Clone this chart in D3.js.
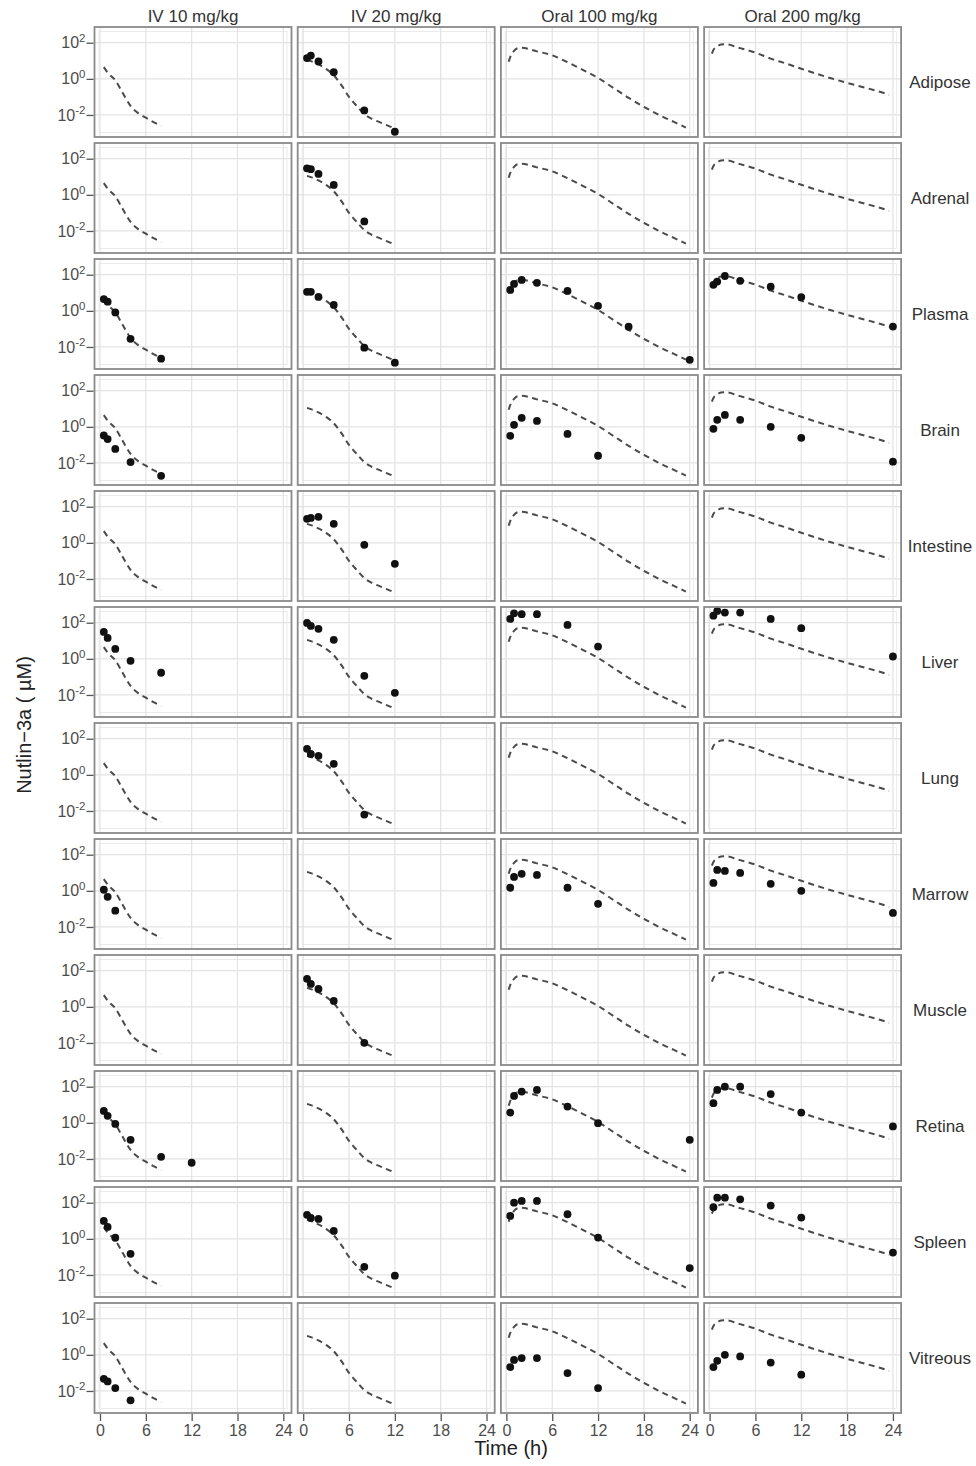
<!DOCTYPE html>
<html><head><meta charset="utf-8">
<script src="https://cdn.jsdelivr.net/npm/d3@7"></script>
<style>body{margin:0;background:#fff;} svg{display:block;font-family:"Liberation Sans",Arial,sans-serif;}</style>
</head><body>
<svg id="chart" width="976" height="1466"></svg>
<script>
// ---------- DATA (concentrations stored as log10 of µM) ----------
const tissues = ["Adipose","Adrenal","Plasma","Brain","Intestine","Liver","Lung","Marrow","Muscle","Retina","Spleen","Vitreous"];
const regimens = ["IV 10 mg/kg","IV 20 mg/kg","Oral 100 mg/kg","Oral 200 mg/kg"];
const xTicks = [0, 6, 12, 18, 24];
const yTicks = [1e-2, 1, 1e2];

// model predictions (dashed), one per dosing regimen
const curveTimeIV10 = [0.5, 1, 2, 3, 4, 5, 6, 7, 8];
const curveIV10     = [0.65, 0.35, -0.08, -0.8, -1.5, -1.9, -2.15, -2.4, -2.6];
const curveTimeIV20 = [0.5, 1, 2, 3, 4, 5, 6, 7, 8, 9, 10, 11, 12];
const curveIV20     = [1.05, 0.98, 0.8, 0.55, 0.2, -0.35, -1.0, -1.5, -1.95, -2.22, -2.4, -2.58, -2.75];
const curveTimeOral = [0.3, 0.5, 1, 1.5, 2, 4, 6, 8, 10, 12, 14, 16, 18, 20, 22, 23.5];
const curveOral100  = [0.95, 1.2, 1.55, 1.7, 1.72, 1.52, 1.3, 0.92, 0.5, 0.05, -0.5, -1.05, -1.55, -2.0, -2.4, -2.7];
const curveOral200  = [1.4, 1.6, 1.8, 1.9, 1.92, 1.7, 1.45, 1.12, 0.85, 0.56, 0.28, 0.02, -0.22, -0.45, -0.68, -0.88];

// observed data per tissue: [IV10, IV20, Oral100, Oral200], each a list of [time h, log10 µM]
const adipose   = [[], [[0.5,1.15],[1,1.29],[2,0.96],[4,0.37],[8,-1.75],[12,-2.93]], [], []];
const adrenal   = [[], [[0.5,1.47],[1,1.42],[2,1.16],[4,0.55],[8,-1.47]], [], []];
const plasma    = [[[0.5,0.65],[1,0.51],[2,-0.09],[4,-1.55],[8,-2.65]],
                   [[0.5,1.05],[1,1.05],[2,0.77],[4,0.33],[8,-2.04],[12,-2.87]],
                   [[0.5,1.16],[1,1.49],[2,1.71],[4,1.55],[8,1.10],[12,0.28],[16,-0.88],[24,-2.71]],
                   [[0.5,1.44],[1,1.62],[2,1.93],[4,1.66],[8,1.34],[12,0.76],[24,-0.87]]];
const brain     = [[[0.5,-0.48],[1,-0.68],[2,-1.22],[4,-1.95],[8,-2.71]], [],
                   [[0.5,-0.5],[1,0.11],[2,0.5],[4,0.33],[8,-0.39],[12,-1.6]],
                   [[0.5,-0.11],[1,0.39],[2,0.66],[4,0.39],[8,0],[12,-0.61],[24,-1.93]]];
const intestine = [[], [[0.5,1.33],[1,1.38],[2,1.44],[4,1.05],[8,-0.11],[12,-1.16]], [], []];
const liver     = [[[0.5,1.49],[1,1.16],[2,0.55],[4,-0.11],[8,-0.77]],
                   [[0.5,1.99],[1,1.82],[2,1.66],[4,1.05],[8,-0.94],[12,-1.88]],
                   [[0.5,2.21],[1,2.52],[2,2.47],[4,2.47],[8,1.88],[12,0.68]],
                   [[0.5,2.39],[1,2.65],[2,2.56],[4,2.56],[8,2.21],[12,1.7],[24,0.13]]];
const lung      = [[], [[0.5,1.44],[1,1.16],[2,1.05],[4,0.61],[8,-2.2]], [], []];
const marrow    = [[[0.5,0.06],[1,-0.33],[2,-1.1]], [],
                   [[0.5,0.17],[1,0.77],[2,0.94],[4,0.88],[8,0.17],[12,-0.72]],
                   [[0.5,0.44],[1,1.16],[2,1.1],[4,0.99],[8,0.39],[12,0],[24,-1.22]]];
const muscle    = [[], [[0.5,1.55],[1,1.27],[2,0.99],[4,0.33],[8,-1.99]], [], []];
const retina    = [[[0.5,0.66],[1,0.39],[2,-0.06],[4,-0.94],[8,-1.88],[12,-2.21]], [],
                   [[0.5,0.57],[1,1.49],[2,1.73],[4,1.82],[8,0.9],[12,-0.02],[24,-0.94]],
                   [[0.5,1.09],[1,1.82],[2,2.0],[4,2.0],[8,1.59],[12,0.57],[24,-0.2]]];
const spleen    = [[[0.5,0.99],[1,0.66],[2,0.06],[4,-0.83]],
                   [[0.5,1.33],[1,1.16],[2,1.1],[4,0.44],[8,-1.55],[12,-2.04]],
                   [[0.5,1.27],[1,2.0],[2,2.1],[4,2.1],[8,1.36],[12,0.07],[24,-1.62]],
                   [[0.5,1.75],[1,2.28],[2,2.28],[4,2.19],[8,1.84],[12,1.18],[24,-0.76]]];
const vitreous  = [[[0.5,-1.33],[1,-1.47],[2,-1.84],[4,-2.52]], [],
                   [[0.5,-0.68],[1,-0.28],[2,-0.18],[4,-0.18],[8,-1.01],[12,-1.84]],
                   [[0.5,-0.68],[1,-0.33],[2,0],[4,-0.09],[8,-0.43],[12,-1.1]]];

const observed = [adipose, adrenal, plasma, brain, intestine, liver, lung, marrow, muscle, retina, spleen, vitreous];
const curves = [
  d3.zip(curveTimeIV10, curveIV10),
  d3.zip(curveTimeIV20, curveIV20),
  d3.zip(curveTimeOral, curveOral100),
  d3.zip(curveTimeOral, curveOral200)
];

// ---------- LAYOUT ----------
const W = 976, H = 1466;
const left0 = 94.5, colPitch = 203.2, panelW = 197;
const top0 = 27, rowPitch = 116, panelH = 110;

const svg = d3.select("#chart");
svg.append("rect").attr("width", W).attr("height", H).attr("fill", "#fff");

const x = d3.scaleLinear().domain([-0.72, 25.07]).range([0, panelW]);
const y = d3.scaleLog().domain([Math.pow(10, -3.22), Math.pow(10, 2.87)]).range([panelH, 0]);
const line = d3.line()
  .x(d => x(d[0]))
  .y(d => y(Math.pow(10, d[1])))
  .curve(d3.curveMonotoneX);

function supFormat(textSel) {
  textSel.each(function(d) {
    const e = Math.round(Math.log10(d));
    const t = d3.select(this);
    t.text(null);
    t.append("tspan").text("10");
    t.append("tspan").attr("dy", "-0.55em").attr("font-size", "11.5px").text(String(e));
  });
}

tissues.forEach((tis, r) => {
  regimens.forEach((reg, c) => {
    const g = svg.append("g")
      .attr("transform", `translate(${left0 + c * colPitch},${top0 + r * rowPitch})`);

    // inner light frame
    g.append("rect").attr("x", 4.5).attr("y", 4.5)
      .attr("width", panelW - 9).attr("height", panelH - 9)
      .attr("fill", "none").attr("stroke", "#ebebeb").attr("stroke-width", 1);

    // grid lines
    g.selectAll(".gx").data(xTicks).join("line")
      .attr("x1", d => x(d)).attr("x2", d => x(d))
      .attr("y1", 0).attr("y2", panelH)
      .attr("stroke", "#e3e3e3").attr("stroke-width", 1.2);
    g.selectAll(".gy").data(yTicks).join("line")
      .attr("y1", d => y(d)).attr("y2", d => y(d))
      .attr("x1", 0).attr("x2", panelW)
      .attr("stroke", "#e3e3e3").attr("stroke-width", 1.2);

    // model curve
    g.append("path").datum(curves[c])
      .attr("d", line)
      .attr("fill", "none").attr("stroke", "#4a4a4a")
      .attr("stroke-width", 2).attr("stroke-dasharray", "6,4.5");

    // observed points
    g.selectAll(".pt").data(observed[r][c]).join("circle")
      .attr("cx", d => x(d[0]))
      .attr("cy", d => y(Math.pow(10, d[1])))
      .attr("r", 3.9).attr("fill", "#111");

    // border
    g.append("rect").attr("x", 0).attr("y", 0)
      .attr("width", panelW).attr("height", panelH)
      .attr("fill", "none").attr("stroke", "#8a8a8a").attr("stroke-width", 1.8);

    // y axis on first column
    if (c === 0) {
      const ay = g.append("g")
        .call(d3.axisLeft(y).tickValues(yTicks).tickSize(7).tickPadding(2).tickFormat(d => d));
      ay.select(".domain").remove();
      ay.selectAll(".tick line").attr("stroke", "#555").attr("stroke-width", 1.3).attr("transform", "translate(-1,0)");
      ay.selectAll(".tick text").attr("font-size", "16px").attr("fill", "#4d4d4d")
        .attr("font-family", "Liberation Sans, Arial, sans-serif").call(supFormat);
    }
    // x axis on last row
    if (r === tissues.length - 1) {
      const ax = g.append("g").attr("transform", `translate(0,${panelH})`)
        .call(d3.axisBottom(x).tickValues(xTicks).tickSize(7).tickPadding(5));
      ax.select(".domain").remove();
      ax.selectAll(".tick line").attr("stroke", "#555").attr("stroke-width", 1.3).attr("transform", "translate(0,1)");
      ax.selectAll(".tick text").attr("font-size", "16px").attr("fill", "#4d4d4d")
        .attr("font-family", "Liberation Sans, Arial, sans-serif");
    }
  });
});

// column strips (top)
svg.selectAll(".colstrip").data(regimens).join("text")
  .attr("x", (d, i) => left0 + i * colPitch + panelW / 2)
  .attr("y", 22)
  .attr("text-anchor", "middle")
  .attr("font-size", "17px").attr("fill", "#333")
  .text(d => d);

// row strips (right)
svg.selectAll(".rowstrip").data(tissues).join("text")
  .attr("x", 940)
  .attr("y", (d, i) => top0 + i * rowPitch + panelH / 2 + 6)
  .attr("text-anchor", "middle")
  .attr("font-size", "17px").attr("fill", "#333")
  .text(d => d);

// axis titles
svg.append("text")
  .attr("x", 511).attr("y", 1455)
  .attr("text-anchor", "middle").attr("font-size", "20px").attr("fill", "#222")
  .text("Time (h)");
svg.append("text")
  .attr("transform", "translate(31,725) rotate(-90)")
  .attr("text-anchor", "middle").attr("font-size", "20px").attr("fill", "#222")
  .text("Nutlin\u22123a ( \u00B5M)");
</script>
</body></html>
